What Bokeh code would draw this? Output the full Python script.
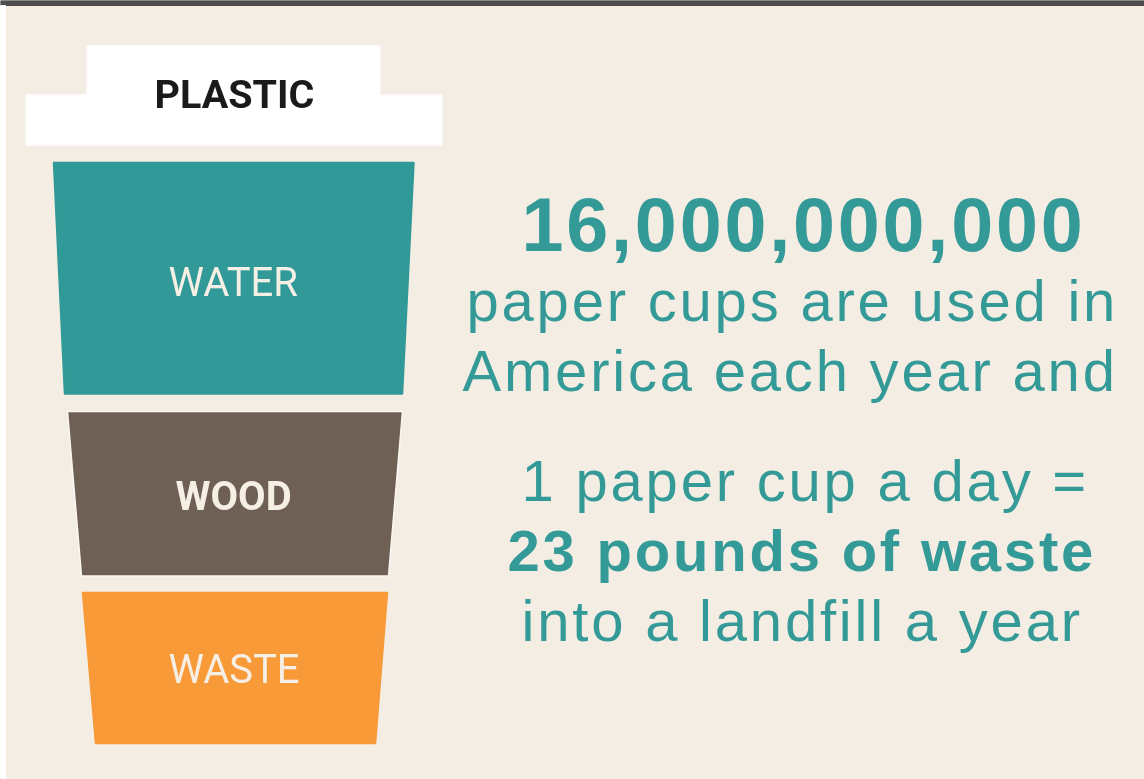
from bokeh.plotting import figure
from bokeh.models import ColumnDataSource, Range1d
from bokeh.core.properties import value
from bokeh.embed import file_html
from bokeh.resources import INLINE

layers = ["WATER", "WOOD", "WASTE"]
layer_tops = [162, 411, 592]
layer_bottoms = [393.5, 575.5, 743]
top_left = [53, 67, 82]
top_right = [413.5, 402, 387]
bottom_left = [64, 81, 95]
bottom_right = [402, 388, 375]
layer_colors = ["#319997", "#6e6055", "#f89a38"]
layer_edges = ["#319997", "#fbf7f1", "#f89a38"]

lid_label = "PLASTIC"
lid_x = [86, 380, 380, 442, 442, 25, 25, 86]
lid_y = [45, 45, 94, 94, 145, 145, 94, 94]

label_x = [168, 175, 168]
label_y = [297, 511, 684]
label_sizes = ["40px", "40px", "40px"]
label_offsets = [-15, -15, -15]
label_styles = ["normal", "bold", "normal"]

lines = ["16,000,000,000", "paper cups are used in", "America each year and",
         "1 paper cup a day =", "23 pounds of waste", "into a landfill a year"]
line_x = [521, 466, 462, 521, 507, 521]
line_y = [252, 322, 392, 502, 572, 642]
line_sizes = ["75.5px", "58px", "58px", "58px", "58px", "58px"]
line_offsets = [-28, -22, -22, -22, -22, -22]
line_styles = ["bold", "normal", "normal", "normal", "bold", "normal"]


def canvas(spacing, fill):
    f = figure(width=1144, height=779, output_backend="svg", toolbar_location=None,
               x_range=Range1d(0, 1144), y_range=Range1d(779, 0),
               min_border=0, outline_line_color=None, background_fill_color=fill,
               border_fill_color=fill)
    f.axis.visible = False
    f.grid.visible = False
    f.styles = {"position": "fixed", "top": "0", "left": "0", "letter-spacing": spacing}
    return f


p = canvas("2.8px", "#f4ede3")

p.quad(left=[0], right=[1144], top=[0], bottom=[5], color="#4d4d4d")
p.quad(left=[0], right=[5], top=[5], bottom=[779], color="#ffffff")
p.patch(lid_x, lid_y, fill_color="#ffffff", line_color=None)

xs = [[a, b, c, d] for a, b, c, d in zip(top_left, top_right, bottom_right, bottom_left)]
ys = [[t, t, b, b] for t, b in zip(layer_tops, layer_bottoms)]
p.patches(xs, ys, fill_color=layer_colors, line_color=layer_edges, line_width=1.5)

src2 = ColumnDataSource(dict(x=line_x, y=line_y, t=lines, s=line_sizes, st=line_styles, o=line_offsets))
p.text(x="x", y="y", y_offset="o", text="t", source=src2, text_font=value("Liberation Sans"),
       text_font_size="s", text_font_style="st", text_color="#349a98",
       text_baseline="alphabetic", text_align="left")

q = canvas("0px", None)
q.text(x=[154], y=[109], y_offset=[-15], text=[lid_label], text_color="#1a1a1a",
       text_font=value("Roboto"), text_font_style="bold", text_font_size="39.5px",
       text_baseline="alphabetic", text_align="left")
src = ColumnDataSource(dict(x=label_x, y=label_y, t=layers, s=label_sizes, st=label_styles, o=label_offsets))
q.text(x="x", y="y", y_offset="o", text="t", source=src, text_font=value("Roboto"),
       text_font_size="s", text_font_style="st", text_color="#f6efe6",
       text_baseline="alphabetic", text_align="left")

open("out.html", "w").write(file_html([p, q], INLINE))
